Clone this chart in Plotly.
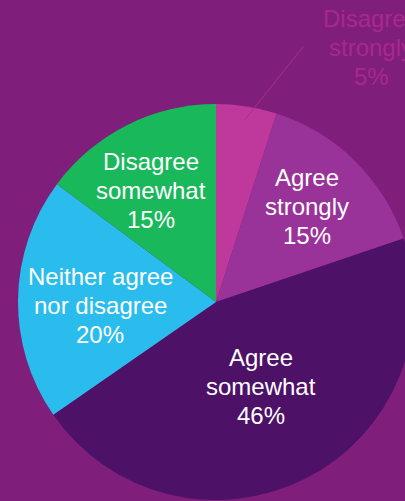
import math
import plotly.graph_objects as go

labels = ["Disagree strongly", "Agree strongly", "Agree somewhat",
          "Neither agree nor disagree", "Disagree somewhat"]
label_lines = [["Disagree", "strongly"], ["Agree", "strongly"], ["Agree", "somewhat"],
               ["Neither agree", "nor disagree"], ["Disagree", "somewhat"]]
values = [5, 15, 46, 20, 15]
colors = ["#BF389C", "#9A3399", "#4D1167", "#2ABCEC", "#19B85B"]

# layout constants (pixel positions of the label blocks, window 405x501)
label_pos = [(371, 47), (307, 206), (261, 386), (100, 305), (151, 190)]
label_color = ["#A8288F", "white", "white", "white", "white"]

BG = "#7F1E7B"
W, H = 414, 501
cx, cy, R = 216, 302, 198
FONT = "Liberation Sans, Arial"
FS = 24
LINE = 29

fig = go.Figure(go.Pie(
    labels=labels, values=values, textinfo="none",
    sort=False, direction="clockwise", rotation=0,
    marker=dict(colors=colors, line=dict(width=0)),
    domain=dict(x=[(cx - R) / W, (cx + R) / W], y=[(H - cy - R) / H, (H - cy + R) / H]),
    showlegend=False, hoverinfo="label+percent",
))

total = sum(values)
for i, (lines, v) in enumerate(zip(label_lines, values)):
    pct = f"{round(100 * v / total)}%"
    all_lines = lines + [pct]
    n = len(all_lines)
    px, py = label_pos[i]
    for j, s in enumerate(all_lines):
        fig.add_annotation(xref="paper", yref="paper", x=px / W, y=1 - py / H,
                           yshift=-(j - (n - 1) / 2) * LINE,
                           text=s, showarrow=False,
                           font=dict(family=FONT, size=FS, color=label_color[i]),
                           xanchor="center", yanchor="middle")

# leader line for the small slice, head at its mid-angle
mid = (values[0] / 2) / total * 2 * math.pi
hx = cx + 0.93 * R * math.sin(mid)
hy = cy - 0.93 * R * math.cos(mid)
fig.add_shape(type="line", xref="paper", yref="paper",
              x0=hx / W, y0=1 - hy / H, x1=303 / W, y1=1 - 47 / H,
              line=dict(color="#AE2C92", width=1))

fig.update_layout(width=W, height=H, margin=dict(l=0, r=0, t=0, b=0),
                  paper_bgcolor=BG, plot_bgcolor=BG)
fig.write_html("out.html", config={"displayModeBar": False},
               post_script="document.body.style.margin='0';document.body.style.overflow='hidden';")
